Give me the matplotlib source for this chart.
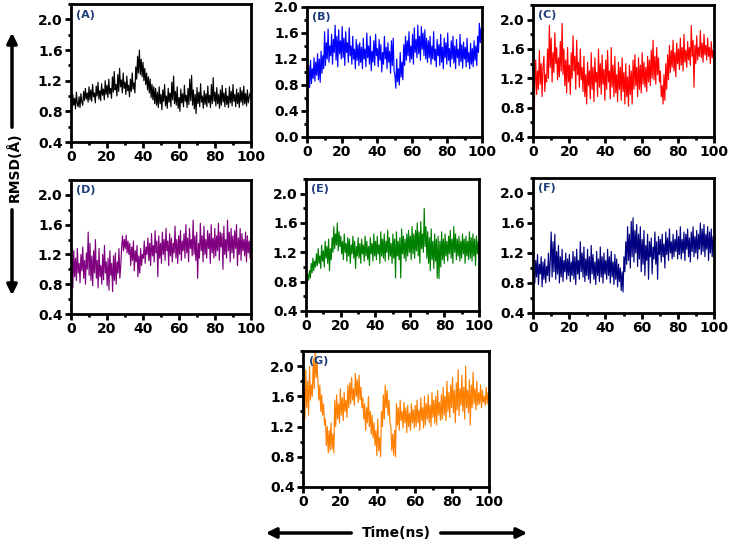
import numpy as np
import matplotlib
matplotlib.use("Agg")
import matplotlib.pyplot as plt
from matplotlib.ticker import MultipleLocator

plt.rcParams['font.family'] = ['DejaVu Sans']
plt.rcParams['font.weight'] = 'bold'

# RMSD traces (Angstrom), evenly spaced over 0-100 ns
rmsd_a = [0.95, 0.84, 1.02, 0.88, 0.97, 0.83, 1.05, 0.90, 0.86, 0.99, 0.85, 1.03, 0.92, 0.88, 1.06, 0.94, 1.10, 0.96, 1.04, 0.92,
          1.12, 0.95, 1.08, 0.93, 1.15, 0.99, 1.04, 0.91, 1.13, 1.00, 1.18, 0.96, 1.07, 0.94, 1.16, 1.01, 1.09, 0.95, 1.20, 1.02,
          1.14, 0.98, 1.22, 1.03, 1.10, 0.97, 1.25, 1.05, 1.32, 1.08, 1.15, 1.00, 1.28, 1.06, 1.36, 1.12, 1.21, 1.04, 1.30, 1.10,
          1.18, 1.02, 1.26, 1.07, 1.14, 0.99, 1.22, 1.06, 1.30, 1.09, 1.17, 1.04,
          1.38, 1.22, 1.52, 1.30, 1.60, 1.28, 1.48, 1.25,
          1.44, 1.20, 1.36, 1.15, 1.30, 1.08, 1.25, 1.04, 1.22, 0.98, 1.15, 0.95, 1.12, 0.90, 1.10, 0.88,
          1.05, 0.85, 1.12, 0.90, 1.02, 0.82, 1.08, 0.93, 1.15, 0.87, 1.00, 0.84, 1.10, 0.92, 1.04, 0.86, 1.18, 0.95, 1.26, 0.90,
          1.06, 0.88, 1.12, 0.84, 0.98, 0.80, 1.09, 0.91, 1.03, 0.86, 1.14, 0.93, 1.01, 0.85, 1.10, 0.89, 1.22, 0.94, 1.27, 0.88,
          1.08, 0.83, 1.02, 0.77, 1.11, 0.90, 1.05, 0.86, 1.16, 0.92, 1.00, 0.84, 1.07, 0.89, 1.03, 0.86, 1.13, 0.91, 1.01, 0.85,
          1.15, 0.90, 1.24, 0.93, 1.05, 0.87, 1.11, 0.90, 1.02, 0.84, 1.08, 0.88, 1.14, 0.92, 1.04, 0.86, 1.10, 0.89, 1.00, 0.85,
          1.12, 0.91, 1.06, 0.87, 1.15, 0.93, 1.02, 0.86, 1.09, 0.90, 1.04, 0.85, 1.11, 0.92, 1.07, 0.88, 1.13, 0.90, 1.03, 0.87,
          1.08, 0.91, 0.99, 1.04, 0.95]

rmsd_b = [0.02, 0.85, 1.10, 0.76, 1.18, 0.82, 1.05, 0.90, 1.22, 0.86, 1.15, 0.95, 1.28, 0.88, 1.20, 0.84, 1.32, 0.98, 1.25, 1.05,
          1.62, 1.10, 1.45, 1.20, 1.66, 1.15, 1.40, 1.25, 1.58, 1.12, 1.50, 1.30, 1.72, 1.18, 1.55, 1.08, 1.65, 1.28, 1.48, 1.20,
          1.70, 1.22, 1.52, 1.10, 1.62, 1.30, 1.45, 1.15, 1.68, 1.25, 1.40, 1.12, 1.55, 1.20, 1.35, 1.05, 1.50, 1.18, 1.42, 1.10,
          1.45, 1.15, 1.38, 1.05, 1.52, 1.20, 1.35, 1.08, 1.60, 1.22, 1.40, 1.12, 1.55, 1.02, 1.32, 1.15, 1.48, 1.10, 1.58, 1.25,
          1.36, 1.08, 1.50, 1.18, 1.42, 1.00, 1.30, 1.12, 1.55, 1.20, 1.38, 1.05, 1.45, 1.15, 1.32, 0.98, 1.48, 1.10, 1.52, 1.02,
          0.95, 0.75, 1.20, 0.85, 1.05, 0.80, 1.30, 0.92, 1.15, 0.88,
          1.42, 1.10, 1.55, 1.18, 1.48, 1.25, 1.62, 1.15, 1.40, 1.20, 1.58, 1.12, 1.68, 1.30, 1.50, 1.22, 1.72, 1.28, 1.55, 1.18,
          1.70, 1.35, 1.60, 1.25, 1.65, 1.20, 1.52, 1.15, 1.48, 1.22,
          1.55, 1.12, 1.40, 1.20, 1.62, 1.18, 1.35, 1.08, 1.50, 1.25, 1.42, 1.10, 1.58, 1.15, 1.38, 1.05, 1.52, 1.22, 1.45, 1.12,
          1.60, 1.18, 1.36, 1.08, 1.48, 1.20, 1.55, 1.14, 1.40, 1.05, 1.50, 1.22, 1.35, 1.10, 1.58, 1.16, 1.42, 1.06, 1.46, 1.20,
          1.38, 1.08, 1.52, 1.15, 1.30, 1.05, 1.44, 1.12, 1.36, 1.08, 1.48, 1.18, 1.40, 1.10,
          1.55, 1.30, 1.75, 1.45, 1.68, 1.50]

rmsd_c = [0.40, 0.62, 1.10, 1.45, 0.98, 1.30, 1.05, 1.58, 1.12, 1.40, 0.95, 1.35, 1.50, 1.02, 1.25, 1.15,
          1.60, 1.20, 1.92, 1.35, 1.75, 1.15, 1.55, 1.28, 1.82, 1.40, 1.62, 1.18, 1.48, 1.22, 1.70, 1.30, 1.95, 1.25, 1.60, 1.10,
          1.45, 1.00, 1.62, 1.15, 1.38, 0.98, 1.55, 1.20, 1.78, 1.30, 1.50, 1.05, 1.72, 1.25, 1.42, 1.08, 1.60, 1.18, 1.35, 1.02,
          1.50, 0.95, 1.25, 0.85, 1.42, 1.10, 1.30, 0.92, 1.55, 1.05, 1.35, 0.88, 1.48, 1.15, 1.28, 0.95, 1.60, 1.08, 1.40, 0.98,
          1.52, 1.12, 1.32, 0.90, 1.45, 1.05, 1.58, 1.15, 1.30, 0.92, 1.62, 1.08, 1.38, 0.95, 1.50, 1.00, 1.25, 0.88, 1.42, 1.05,
          1.35, 0.90, 1.48, 1.02, 1.28, 0.85, 1.40, 0.95, 1.22, 0.82, 1.38, 0.98, 1.30, 0.85, 1.45, 1.05, 1.52, 1.10, 1.35, 0.95,
          1.48, 1.05, 1.38, 1.00, 1.55, 1.12, 1.42, 1.08, 1.35, 1.02, 1.50, 1.15, 1.45, 1.10, 1.58, 1.20, 1.72, 1.18, 1.50, 1.12,
          1.62, 1.25, 1.48, 1.15,
          1.30, 0.95, 1.10, 0.85, 1.25, 0.90, 1.40, 1.05, 1.52, 1.18,
          1.65, 1.28, 1.58, 1.35, 1.72, 1.30, 1.55, 1.22, 1.68, 1.40, 1.60, 1.32, 1.75, 1.38, 1.62, 1.30, 1.80, 1.42, 1.58, 1.35,
          1.70, 1.45, 1.62, 1.38, 1.92, 1.50, 1.72, 1.08, 1.65, 1.40, 1.78, 1.45, 1.62, 1.50, 1.85, 1.48, 1.68, 1.42, 1.80, 1.52,
          1.65, 1.45, 1.75, 1.50, 1.62, 1.40, 1.70, 1.48, 1.58, 1.42]

rmsd_d = [0.40, 1.10, 0.75, 1.25, 0.90, 1.15, 0.85, 1.28, 0.95, 1.08, 0.82, 1.20, 0.98, 1.30, 0.88, 1.12, 0.80, 1.22, 1.00, 1.50,
          0.92, 1.35, 0.85, 1.18, 0.78, 1.25, 0.95, 1.40, 0.88, 1.12, 0.75, 1.28, 0.90, 1.05, 0.80, 1.20, 0.86, 1.32, 0.95, 1.10,
          0.78, 1.15, 0.72, 1.25, 0.92, 1.08, 0.70, 1.18, 0.85, 1.22, 0.80, 1.10, 0.95, 1.28, 0.88, 1.05,
          1.30, 1.45, 1.25, 1.40, 1.28, 1.46, 1.22, 1.38,
          1.20, 1.35, 1.05, 1.30, 1.12, 1.38, 0.98, 1.25, 1.10, 1.32, 0.90, 1.18, 0.95, 1.28, 1.05, 1.20,
          1.15, 1.38, 1.08, 1.30, 1.20, 1.42, 1.12, 1.35, 1.05, 1.48, 1.18, 1.32, 1.10, 1.52, 1.22, 1.38, 0.90, 1.45, 1.15, 1.35,
          1.08, 1.50, 1.20, 1.40, 1.12, 1.55, 1.25, 1.38, 1.05, 1.48, 1.18, 1.42, 1.10, 1.35, 1.22, 1.58, 1.15, 1.40, 1.08, 1.45,
          1.20, 1.52, 1.12, 1.38, 1.25, 1.48, 1.15, 1.60, 1.22, 1.42, 1.10, 1.55, 1.28, 1.40, 1.18, 1.66, 1.20, 1.45, 1.12, 1.50,
          0.88, 1.35, 1.15, 1.62, 1.25, 1.45, 1.10, 1.58, 1.20, 1.40, 1.15, 1.52, 1.28, 1.48, 1.08, 1.60, 1.22, 1.42, 1.15, 1.55,
          1.18, 1.45, 1.25, 1.62, 1.12, 1.50, 1.30, 1.48, 1.00, 1.58, 1.20, 1.40, 1.15, 1.66, 1.25, 1.50, 1.10, 1.55, 1.22, 1.45,
          1.15, 1.52, 1.28, 1.60, 1.05, 1.42, 1.20, 1.55, 1.12, 1.48, 1.25, 1.40, 1.18, 1.50, 1.10, 1.45, 1.22, 1.38, 1.15, 1.42]

rmsd_e = [0.40, 0.75, 0.90, 0.82,
          0.95, 0.85, 1.05, 0.92, 1.12, 0.95, 1.08, 1.00, 1.18, 1.02, 1.25, 1.05, 1.15, 0.98, 1.30, 1.08, 1.22, 1.00, 1.35, 1.12,
          1.28, 1.05, 1.38, 0.95, 1.25, 1.10,
          1.40, 1.20, 1.55, 1.25, 1.45, 1.30, 1.60, 1.22, 1.48, 1.28,
          1.42, 1.18, 1.35, 1.10, 1.45, 1.20, 1.32, 1.08, 1.40, 1.15, 1.38, 1.05, 1.30, 1.18, 1.42, 1.12, 1.35, 0.98, 1.28, 1.15,
          1.40, 1.12, 1.32, 1.05, 1.38, 1.18, 1.30, 1.08, 1.42, 1.15, 1.35, 1.10, 1.28, 1.02, 1.40, 1.18, 1.32, 1.08, 1.45, 1.15,
          1.35, 1.10, 1.42, 1.18, 1.30, 1.05, 1.48, 1.15, 1.38, 1.12, 1.45, 1.08, 1.35, 1.20, 1.50, 1.10, 1.40, 1.15, 1.32, 1.05,
          1.45, 1.12, 1.38, 0.85, 1.48, 1.15, 1.35, 1.10, 1.40, 0.85, 1.52, 1.18, 1.42, 1.12, 1.38, 1.08, 1.45, 1.15, 1.50, 1.20,
          1.42, 1.10, 1.55, 1.18, 1.45, 1.12, 1.50, 1.22, 1.60, 1.15, 1.48, 1.05, 1.62, 1.25, 1.45, 1.20, 1.80, 1.28, 1.55, 1.12,
          1.48, 1.05, 1.40, 0.95, 1.52, 1.10, 1.35, 0.98, 1.45, 1.08, 1.38, 0.85, 1.42, 0.84, 1.35, 1.00, 1.48, 1.10, 1.38, 1.05,
          1.45, 1.15, 1.35, 1.08, 1.42, 1.18, 1.50, 1.12, 1.38, 1.05, 1.55, 1.20, 1.45, 1.10, 1.38, 1.15, 1.42, 1.08, 1.35, 1.12,
          1.45, 1.18, 1.38, 1.05, 1.42, 1.15, 1.35, 1.10, 1.48, 1.12, 1.40, 1.08, 1.45, 1.15, 1.38, 1.02, 1.42, 1.18, 1.35, 1.20]

rmsd_f = [0.50, 0.95, 0.80, 1.10, 0.88, 1.18, 0.78, 1.05, 0.92, 1.15, 0.75, 1.08, 0.85, 1.12, 0.80, 1.02, 0.90, 1.20, 0.82, 1.10,
          1.48, 0.88, 1.35, 0.95, 1.45, 0.85, 1.22, 0.92, 1.30, 0.80, 1.15, 0.88, 1.25, 0.82, 1.10, 0.95, 1.20, 0.85, 1.12, 0.90,
          1.18, 0.82, 1.08, 0.90, 1.22, 0.85, 1.15, 0.78, 1.25, 0.92, 1.10, 0.85, 1.35, 0.95, 1.20, 0.88, 1.28, 0.82, 1.12, 0.90,
          1.25, 0.85, 1.15, 0.80, 1.30, 0.92, 1.18, 0.85, 1.08, 0.78, 1.22, 0.90, 1.12, 0.82, 1.28, 0.88, 1.15, 0.80, 1.20, 0.92,
          1.10, 0.85, 1.25, 0.90, 1.15, 0.80, 1.22, 0.88, 1.08, 0.78, 1.18, 0.85, 1.12, 0.75, 1.05, 0.82, 1.00, 0.70, 0.95, 0.68,
          1.15, 0.95, 1.35, 1.05, 1.55, 1.10, 1.45, 1.00, 1.62, 1.15, 1.67, 1.08, 1.50, 1.20, 1.58, 1.02, 1.45, 1.12, 1.55, 0.95,
          1.38, 1.05, 1.50, 0.90, 1.30, 1.10, 1.45, 0.85, 1.35, 1.15, 1.40, 0.92, 1.28, 1.12, 1.48, 1.05, 1.35, 0.85, 1.42, 1.18,
          1.38, 1.08, 1.45, 1.15, 1.32, 1.00, 1.48, 1.18, 1.40, 1.10, 1.52, 1.20, 1.35, 1.12, 1.45, 1.15, 1.38, 1.22, 1.50, 1.12,
          1.42, 1.18, 1.55, 1.12, 1.38, 1.20, 1.48, 1.10, 1.45, 1.25, 1.52, 1.15, 1.40, 1.08, 1.48, 1.22, 1.55, 1.15, 1.42, 1.20,
          1.50, 1.12, 1.45, 1.25, 1.60, 1.18, 1.52, 1.22, 1.58, 1.15, 1.45, 1.25, 1.55, 1.10, 1.48, 1.20, 1.52, 1.15, 1.42, 1.25]

rmsd_g = [0.40, 1.70, 1.30, 1.95, 1.45, 1.80, 1.35, 2.00, 1.55, 1.75, 1.60, 2.10, 1.70, 2.20, 1.85, 2.05,
          1.80, 1.55, 1.75, 1.40, 1.62, 1.35, 1.50, 1.22,
          1.30, 0.95, 1.20, 0.85, 1.15, 0.88, 1.25, 0.90, 1.10, 0.85,
          1.55, 1.20, 1.62, 1.30, 1.50, 1.25, 1.70, 1.35, 1.58, 1.28, 1.65, 1.40, 1.55, 1.32, 1.75, 1.45,
          1.78, 1.50, 1.85, 1.55, 1.70, 1.48, 1.90, 1.60, 1.82, 1.52, 1.88, 1.55, 1.72, 1.45,
          1.58, 1.30, 1.50, 1.15, 1.45, 1.25, 1.60, 1.20, 1.40, 1.10, 1.35, 1.05,
          1.25, 0.95, 1.15, 0.82, 1.30, 0.88, 1.05, 0.80,
          1.40, 1.20, 1.62, 1.30, 1.75, 1.45, 1.68, 1.35, 1.55, 1.25,
          1.20, 0.88, 1.10, 0.82, 1.15, 0.80,
          1.50, 1.22, 1.45, 1.15, 1.55, 1.28, 1.40, 1.18, 1.52, 1.25, 1.45, 1.12, 1.48, 1.20, 1.38, 1.15, 1.50, 1.25, 1.42, 1.18,
          1.48, 1.20, 1.55, 1.25, 1.42, 1.15, 1.58, 1.28, 1.45, 1.18, 1.60, 1.22, 1.50, 1.30, 1.62, 1.25, 1.48, 1.20, 1.65, 1.32,
          1.55, 1.25, 1.60, 1.22, 1.68, 1.35, 1.52, 1.28, 1.62, 1.30,
          1.72, 1.35, 1.60, 1.28, 1.80, 1.40, 1.65, 1.32, 1.75, 1.45, 1.85, 1.38, 1.68, 1.25, 1.78, 1.42, 1.95, 1.35, 1.70, 1.48,
          1.88, 1.40, 1.72, 1.30, 2.00, 1.45, 1.68, 1.38, 1.82, 1.22, 1.75, 1.45, 1.92, 1.50, 1.70, 1.42, 1.80, 1.48, 1.65, 1.50,
          1.75, 1.45, 1.68, 1.52, 1.60, 1.48, 1.72, 1.50, 1.65, 1.55]

labels = ['(A)', '(B)', '(C)', '(D)', '(E)', '(F)', '(G)']
series = [rmsd_a, rmsd_b, rmsd_c, rmsd_d, rmsd_e, rmsd_f, rmsd_g]
colors = ['black', '#0000ff', '#ff0000', '#800080', '#008000', '#000080', '#ff8000']
ylims = [(0.4, 2.2), (0.0, 2.0), (0.4, 2.2), (0.4, 2.2), (0.4, 2.2), (0.4, 2.2), (0.4, 2.2)]

W, H = 729, 541
# panel frames in pixels: left, top, right, bottom
boxes = [(71, 4, 251, 142), (307, 7, 482, 137), (533, 5, 714, 137),
         (71, 180, 251, 314), (306, 179, 479, 311), (533, 178, 714, 313),
         (303, 351, 489, 487)]

fig = plt.figure(figsize=(W / 100, H / 100), dpi=100)

for lab, y, col, yl, (l, t, r, b) in zip(labels, series, colors, ylims, boxes):
    ax = fig.add_axes([l / W, 1 - b / H, (r - l) / W, (b - t) / H])
    x = np.linspace(0, 100, len(y))
    ax.plot(x, y, color=col, lw=0.85)
    ax.set_xlim(0, 100)
    ax.set_ylim(*yl)
    ax.xaxis.set_major_locator(MultipleLocator(20))
    ax.xaxis.set_minor_locator(MultipleLocator(10))
    ax.yaxis.set_major_locator(MultipleLocator(0.4))
    ax.yaxis.set_minor_locator(MultipleLocator(0.2))
    ax.tick_params(which='major', direction='out', length=4, width=2, labelsize=10, pad=2)
    ax.tick_params(which='minor', direction='out', length=2.5, width=2)
    for s in ax.spines.values():
        s.set_linewidth(2)
    for tl in ax.get_xticklabels() + ax.get_yticklabels():
        tl.set_fontweight('bold')
    ax.text(0.03, 0.96, lab, transform=ax.transAxes, ha='left', va='top',
            fontsize=8, fontweight='bold', color='#1f3d7a')

# axis titles with arrows
fig.text(14 / W, 1 - 167 / H, 'RMSD(Å)', rotation=90, ha='center', va='center',
         fontsize=10, fontweight='bold')
arrow = dict(arrowstyle='-|>', color='black', lw=2.5, mutation_scale=15)
fig.add_artist(matplotlib.patches.FancyArrowPatch((12 / W, 1 - 130 / H), (12 / W, 1 - 30 / H),
                                                  transform=fig.transFigure, **arrow))
fig.add_artist(matplotlib.patches.FancyArrowPatch((12 / W, 1 - 207 / H), (12 / W, 1 - 298 / H),
                                                  transform=fig.transFigure, **arrow))

fig.text(396 / W, 1 - 533 / H, 'Time(ns)', ha='center', va='center',
         fontsize=10, fontweight='bold')
fig.add_artist(matplotlib.patches.FancyArrowPatch((354 / W, 1 - 533 / H), (263 / W, 1 - 533 / H),
                                                  transform=fig.transFigure, **arrow))
fig.add_artist(matplotlib.patches.FancyArrowPatch((438 / W, 1 - 533 / H), (530 / W, 1 - 533 / H),
                                                  transform=fig.transFigure, **arrow))

fig.savefig('out.png', dpi=100)
